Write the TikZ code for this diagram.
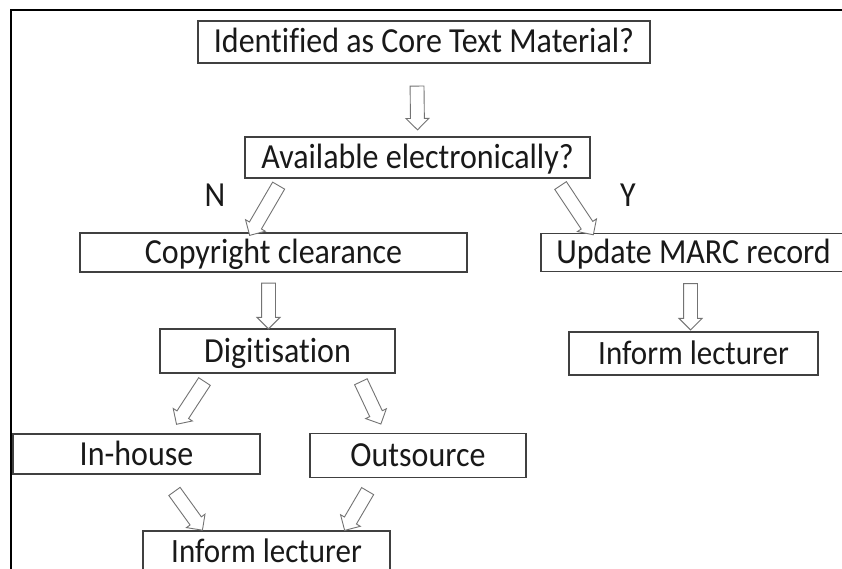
\documentclass[tikz,border=0pt]{standalone}
\usepackage{graphicx}
\usepackage{fontspec}
\setmainfont{Carlito}[Ligatures=NoCommon]
\usetikzlibrary{shapes.arrows,calc}
\tikzset{
  box/.style={draw=black!75, line width=1.2pt, fill=white, inner sep=0pt,
    text=black!90, font=\fontsize{32}{38}\selectfont, text height=23pt, text depth=1pt},
  blockarrow/.style={single arrow, draw=black!55, line width=0.9pt, fill=white,
    inner xsep=0pt, inner ysep=6.5pt, minimum width=0pt,
    single arrow head extend=4.5pt, single arrow tip angle=90, anchor=center},
  lbl/.style={inner sep=0pt, text=black!90, font=\fontsize{32}{38}\selectfont},
  frameline/.style={line width=2.4pt, black}
}
\newcommand\stx[1]{\scalebox{1}[1.1]{#1}}
\newcommand\barrow[2]{%
  \path let \p1=(#1), \p2=(#2),
    \n1={atan2(\y2-\y1,\x2-\x1)}, \n2={veclen(\x2-\x1,\y2-\y1)} in
    node[blockarrow, rotate=\n1, minimum height=\n2] at ($(#1)!0.5!(#2)$) {};}
\begin{document}
\begin{tikzpicture}[x=1pt, y=-1pt]
\useasboundingbox (0,0) rectangle (842,569);
\clip (0,0) rectangle (842,569);
\fill[white] (0,0) rectangle (842,569);
% frame
\draw[frameline] (10,10) -- (845,10);
\draw[frameline] (11,10) -- (11,575);

% boxes
\node[box, minimum width=452pt, minimum height=42pt] (core) at (424,42) {\stx{Identified as Core Text Material?}};
\node[box, minimum width=345pt, minimum height=41pt] (avail) at (417.5,157.5) {\stx{Available electronically?}};
\node[box, minimum width=387pt, minimum height=39pt] (copy) at (273.5,252.5) {\stx{Copyright clearance}};
\node[box, minimum width=305pt, minimum height=38pt] (marc) at (693.5,252.5) {\stx{Update MARC record}};
\node[box, minimum width=235pt, minimum height=44pt] (digi) at (277.5,351) {\stx{Digitisation}};
\node[box, minimum width=249pt, minimum height=43pt, font=\fontsize{31}{36}\selectfont] (infoR) at (693.5,353.5) {\stx{Inform lecturer}};
\node[box, minimum width=247pt, minimum height=40pt] (inhouse) at (136.5,454) {\stx{In-house}};
\node[box, minimum width=216pt, minimum height=44pt] (outs) at (418,455.5) {\stx{Outsource}};
\node[box, minimum width=247pt, minimum height=40pt, font=\fontsize{31}{36}\selectfont] (infoB) at (266.5,551) {\stx{Inform lecturer}};

% labels
\node[lbl] (N) at (215,195) {\stx{N}};
\node[lbl] (Y) at (628,195) {\stx{Y}};

% arrow end points
\coordinate (a1s) at ($(core.south)+(-7,19)$);
\coordinate (a1e) at ($(avail.north)+(0,-10)$);
\coordinate (a2s) at ($(avail.south west)+(36,4)$);
\coordinate (a2e) at ($(copy.north west)+(172,0)$);
\coordinate (a3s) at ($(avail.south east)+(-32,4)$);
\coordinate (a3e) at ($(marc.north west)+(51,-1)$);
\coordinate (a4s) at ($(copy.south)+(-5,7)$);
\coordinate (a4e) at ($(digi.north)+(-9,-3)$);
\coordinate (a5s) at ($(marc.south)+(-3,8)$);
\coordinate (a5e) at ($(infoR.north)+(-3,-5)$);
\coordinate (a6s) at ($(digi.south west)+(47,5)$);
\coordinate (a6e) at ($(inhouse.north west)+(166,-12)$);
\coordinate (a7s) at ($(digi.south west)+(200,5)$);
\coordinate (a7e) at ($(outs.north west)+(70,-12)$);
\coordinate (a8s) at ($(inhouse.south west)+(160,14)$);
\coordinate (a8e) at ($(infoB.north west)+(58,-3)$);
\coordinate (a9s) at ($(outs.south west)+(60,10)$);
\coordinate (a9e) at ($(infoB.north west)+(204,-3)$);

\barrow{a1s}{a1e}
\barrow{a2s}{a2e}
\barrow{a3s}{a3e}
\barrow{a4s}{a4e}
\barrow{a5s}{a5e}
\barrow{a6s}{a6e}
\barrow{a7s}{a7e}
\barrow{a8s}{a8e}
\barrow{a9s}{a9e}
\end{tikzpicture}
\end{document}
